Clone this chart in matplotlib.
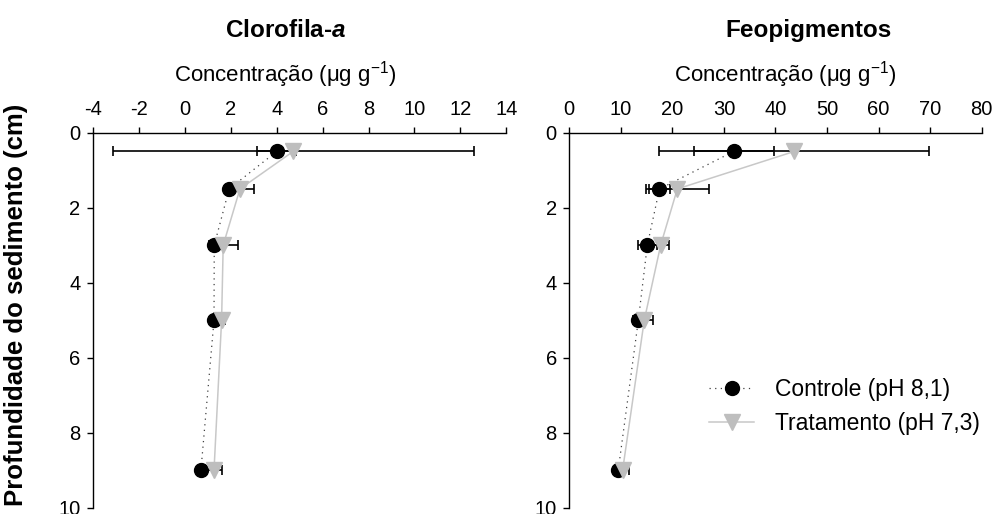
import numpy as np
import matplotlib.pyplot as plt

plt.rcParams['font.family'] = ['Liberation Sans', 'DejaVu Sans']
plt.rcParams['axes.unicode_minus'] = False
plt.rcParams['mathtext.fontset'] = 'custom'
plt.rcParams['mathtext.rm'] = 'Liberation Sans'
plt.rcParams['mathtext.it'] = 'Liberation Sans:italic'
plt.rcParams['mathtext.bf'] = 'Liberation Sans:bold'
plt.rcParams['mathtext.bfit'] = 'Liberation Sans:bold:italic'

# profundidade (cm)
prof = [0.5, 1.5, 3, 5, 9]

# clorofila-a
clo_ctrl = [4.0, 1.93, 1.28, 1.27, 0.7]
clo_ctrl_err = [0.85, 0.2, 0.2, 0.1, 0.1]
clo_trat = [4.72, 2.4, 1.67, 1.6, 1.27]
clo_trat_err = [7.86, 0.62, 0.63, 0.15, 0.33]

# feopigmentos
feo_ctrl = [31.9, 17.5, 15.14, 13.4, 9.5]
feo_ctrl_err = [7.8, 2.0, 1.9, 1.0, 0.8]
feo_trat = [43.66, 20.96, 17.73, 14.55, 10.35]
feo_trat_err = [26.2, 6.1, 1.7, 1.6, 1.3]

fig = plt.figure(figsize=(9.94, 5.14), dpi=100)
ax1 = fig.add_axes([0.0936, 0.0123, 0.4157, 0.7296])
ax2 = fig.add_axes([0.5727, 0.0123, 0.4149, 0.7296])

def painel(ax, ctrl, ctrl_err, trat, trat_err, xlim, xticks):
    ax.errorbar(ctrl, prof, xerr=ctrl_err, fmt='none', ecolor='black',
                elinewidth=1.2, capsize=3.5, capthick=1.2, zorder=2)
    ax.errorbar(trat, prof, xerr=trat_err, fmt='none', ecolor='black',
                elinewidth=1.2, capsize=3.5, capthick=1.2, zorder=2)
    ax.plot(ctrl, prof, color='#404040', lw=0.9, ls=(0, (1, 3.5)),
            marker='o', ms=10, mfc='black', mec='black', zorder=3,
            label='Controle (pH 8,1)')
    ax.plot(trat, prof, color='#c8c8c8', lw=1.1, ls='-',
            marker='v', ms=11, mfc='#bebebe', mec='#bebebe', zorder=4,
            label='Tratamento (pH 7,3)')
    ax.set_xlim(*xlim)
    ax.set_xticks(xticks)
    ax.set_ylim(10, 0)
    ax.set_yticks(range(0, 11, 2))
    ax.xaxis.tick_top()
    for s in ['right', 'bottom']:
        ax.spines[s].set_visible(False)
    for s in ['left', 'top']:
        ax.spines[s].set_linewidth(1.0)
    ax.tick_params(direction='out', length=4, width=1, labelsize=14.5,
                   top=True, bottom=False)
    ax.tick_params(axis='x', pad=6)
    ax.tick_params(axis='y', pad=5)

painel(ax1, clo_ctrl, clo_ctrl_err, clo_trat, clo_trat_err, (-4, 14), range(-4, 15, 2))
painel(ax2, feo_ctrl, feo_ctrl_err, feo_trat, feo_trat_err, (0, 80), range(0, 81, 10))

fig.text(0.287, 0.94, r'Clorofila-$\mathbfit{a}$', ha='center', va='center',
         fontsize=17.5, fontweight='bold')
fig.text(0.287, 0.855, 'Concentração (μg g$^{-1}$)', ha='center', va='center', fontsize=16)
fig.text(0.813, 0.94, 'Feopigmentos', ha='center', va='center',
         fontsize=17.5, fontweight='bold')
fig.text(0.79, 0.855, 'Concentração (μg g$^{-1}$)', ha='center', va='center', fontsize=16)
fig.text(0.016, 0.407, 'Profundidade do sedimento (cm)', rotation=90, ha='center',
         va='center', fontsize=18.5, fontweight='bold')

ax2.legend(loc='center left', bbox_to_anchor=(0.29, 0.27), frameon=False,
           fontsize=16.5, handlelength=1.95, handletextpad=0.9, labelspacing=0.45)

fig.savefig('out.png', dpi=100)
